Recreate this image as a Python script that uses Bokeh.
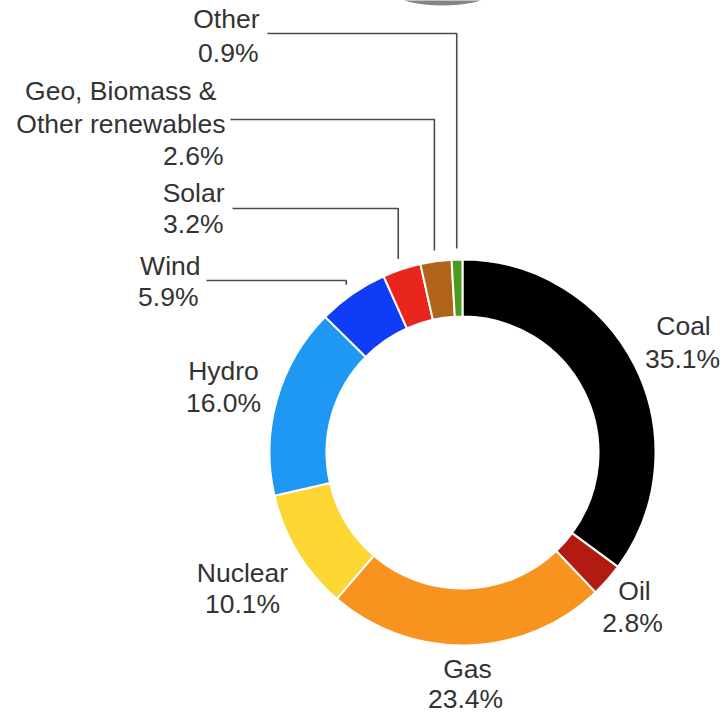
import math
from bokeh.plotting import figure
from bokeh.models import Range1d, ColumnDataSource
from bokeh.embed import file_html
from bokeh.resources import INLINE
from bokeh.core.properties import value

# ---------------- data ----------------
categories = ["Coal", "Oil", "Gas", "Nuclear", "Hydro", "Wind", "Solar",
              "Geo, Biomass & Other renewables", "Other"]
shares = [35.1, 2.8, 23.4, 10.1, 16.0, 5.9, 3.2, 2.6, 0.9]
colors = ["#000000", "#b31a12", "#f8931f", "#fcd633", "#1f98f4",
          "#0f3cf5", "#e8261e", "#b0641a", "#4a9a1e"]
label_names = [["Coal"], ["Oil"], ["Gas"], ["Nuclear"], ["Hydro"], ["Wind"],
               ["Solar"], ["Geo, Biomass &", "Other renewables"], ["Other"]]

# ---------------- layout (screen px) ----------------
W, H = 726, 715
CX, CY = 462, 452
R_OUT, R_IN = 193, 136
LEADER_GAP = 11
FONT = "Liberation Sans"
FSIZE = "26.5px"
TCOLOR = "#333333"
TEXT_SHIFT = 10  # compensation for svg baseline placement

# label anchor points: x per line, baseline y per line, alignment
label_layout = [
    dict(x=[683, 682], y=[335, 368], align="center"),
    dict(x=[634, 632], y=[600, 632], align="center"),
    dict(x=[467, 465], y=[678, 708], align="center"),
    dict(x=[242, 242], y=[582, 613], align="center"),
    dict(x=[223, 223], y=[380, 412], align="center"),
    dict(x=[200, 198], y=[275, 306], align="right"),
    dict(x=[224, 223], y=[202, 233], align="right"),
    dict(x=[216, 225, 223], y=[100, 133, 165], align="right"),
    dict(x=[259, 258], y=[28, 62], align="right"),
]
# leader lines: (horizontal y, start x) for small slices
leaders = {5: (280, 206), 6: (208, 232), 7: (119, 230), 8: (33, 267)}

# ---------------- figure ----------------
p = figure(width=W, height=H, x_range=Range1d(0, W), y_range=Range1d(-H, 0),
           output_backend="svg", toolbar_location=None, min_border=0,
           x_axis_type=None, y_axis_type=None)
p.grid.visible = False
p.outline_line_color = None
p.background_fill_color = "white"
p.border_fill_color = "white"

# small grey smudge at the top (cropped element of the source image)
p.ellipse(x=[442], y=[4], width=84, height=18, fill_color="#6e6e6e",
          fill_alpha=0.85, line_color=None)

total = sum(shares)
starts, ends, mids = [], [], []
cum = 0.0
for s in shares:
    a0 = math.pi / 2 - 2 * math.pi * cum / total
    cum += s
    a1 = math.pi / 2 - 2 * math.pi * cum / total
    starts.append(a0)
    ends.append(a1)
    mids.append((a0 + a1) / 2)

src = ColumnDataSource(dict(start=starts, end=ends, color=colors, name=categories))
p.annular_wedge(x=CX, y=-CY, inner_radius=R_IN, outer_radius=R_OUT,
                start_angle="start", end_angle="end", direction="clock",
                fill_color="color", line_color="white", line_width=2, source=src)

# labels
groups = {}
for i, (names, lay) in enumerate(zip(label_names, label_layout)):
    lines = names + [f"{shares[i]:.1f}%"]
    g = groups.setdefault(lay["align"], dict(x=[], y=[], t=[]))
    for t, lx, ly in zip(lines, lay["x"], lay["y"]):
        g["x"].append(lx)
        g["y"].append(-(ly - TEXT_SHIFT))
        g["t"].append(t)
for align, g in groups.items():
    p.text(x=g["x"], y=g["y"], text=g["t"], text_align=align,
           text_baseline="alphabetic", text_font=value(FONT),
           text_font_size=FSIZE, text_color=TCOLOR)

# leader lines
xs, ys = [], []
for i, (hy, hx) in leaders.items():
    r = R_OUT + LEADER_GAP
    ex = CX + r * math.cos(mids[i])
    ey = CY - r * math.sin(mids[i])
    xs.append([hx, ex, ex])
    ys.append([-hy, -hy, -ey])
p.multi_line(xs=xs, ys=ys, line_color="#4a4a4a", line_width=1.6)

open("out.html", "w").write(file_html(p, INLINE))
